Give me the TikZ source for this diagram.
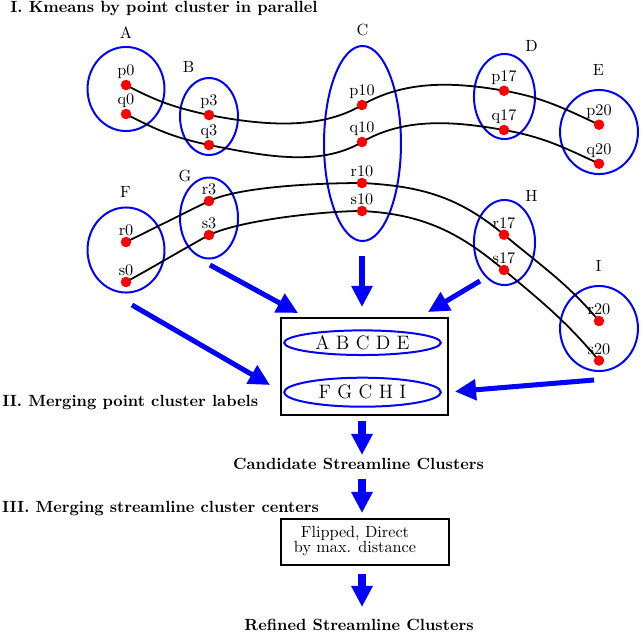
\documentclass[tikz,border=0pt]{standalone}
\usetikzlibrary{shapes.geometric,arrows.meta}
\begin{document}
\begin{tikzpicture}[x=0.6173pt,y=-0.6173pt,
  clus/.style={draw=blue,line width=1.23pt,ellipse,inner sep=0pt},
  dotpt/.style={circle,inner sep=0pt,minimum size=6.5pt,label distance=2.3pt},
  dlbl/.style={inner sep=0pt},
  clbl/.style={inner sep=0pt},
  sec/.style={font=\bfseries,inner sep=0pt},
  curve/.style={draw=black,line width=1.1pt},
  arrA/.style={draw=blue,line width=3.1pt,-{Triangle[length=13pt,width=12.5pt]}},
  arrB/.style={draw=blue,line width=4.6pt,-{Triangle[length=13pt,width=12.5pt]}},
  frame/.style={draw=black,line width=1.23pt,inner sep=0pt}]
\useasboundingbox (0,0) rectangle (641,633);

% cluster ellipses
\node[clus,minimum width=47.5pt,minimum height=51.9pt] (A) at (126,89) {};
\node[clus,minimum width=35.8pt,minimum height=47.5pt] (B) at (209,116.5) {};
\node[clus,minimum width=47.5pt,minimum height=120.4pt] (C) at (362.5,143.5) {};
\node[clus,minimum width=37.7pt,minimum height=52.5pt] (D) at (504.5,96.5) {};
\node[clus,minimum width=48.1pt,minimum height=51.9pt] (E) at (599,132) {};
\node[clus,minimum width=47.5pt,minimum height=52.5pt] (F) at (126,250) {};
\node[clus,minimum width=35.8pt,minimum height=50pt] (G) at (209,218) {};
\node[clus,minimum width=37.7pt,minimum height=52.5pt] (H) at (504.5,242.5) {};
\node[clus,minimum width=48.1pt,minimum height=52.5pt] (I) at (599,328.5) {};

% cluster names
\node[clbl] (lA) at (126,33) {A};
\node[clbl] (lB) at (188.5,66.5) {B};
\node[clbl] (lC) at (362.5,30) {C};
\node[clbl] (lD) at (531.5,46) {D};
\node[clbl] (lE) at (598.5,70) {E};
\node[clbl] (lF) at (125.5,192) {F};
\node[clbl] (lG) at (185,176) {G};
\node[clbl] (lH) at (531.5,195.5) {H};
\node[clbl] (lI) at (598.5,266) {I};

% points (positions and labels)
\node[dotpt,label={[dlbl]above:p0}] (p0) at (126,85) {};
\node[dotpt,label={[dlbl]above:q0}] (q0) at (126,114) {};
\node[dotpt,label={[dlbl]above:p3}] (p3) at (209,115) {};
\node[dotpt,label={[dlbl]above:q3}] (q3) at (209,145) {};
\node[dotpt,label={[dlbl]above:p10}] (p10) at (362,105) {};
\node[dotpt,label={[dlbl]above:q10}] (q10) at (362,142) {};
\node[dotpt,label={[dlbl]above:p17}] (p17) at (504,90.7) {};
\node[dotpt,label={[dlbl]above:q17}] (q17) at (504,130) {};
\node[dotpt,label={[dlbl]above:p20}] (p20) at (599,124.7) {};
\node[dotpt,label={[dlbl]above:q20}] (q20) at (599,163.7) {};
\node[dotpt,label={[dlbl]above:r0}] (r0) at (126,242) {};
\node[dotpt,label={[dlbl]above:s0}] (s0) at (126,282) {};
\node[dotpt,label={[dlbl]above:r3}] (r3) at (209,201) {};
\node[dotpt,label={[dlbl]above:s3}] (s3) at (209,235) {};
\node[dotpt,label={[dlbl]above:r10}] (r10) at (362,183) {};
\node[dotpt,label={[dlbl]above:s10}] (s10) at (362,211) {};
\node[dotpt,label={[dlbl]above:r17}] (r17) at (504,234.7) {};
\node[dotpt,label={[dlbl]above:s17}] (s17) at (504,270) {};
\node[dotpt,label={[dlbl]above:r20}] (r20) at (599,321) {};
\node[dotpt,label={[dlbl]above:s20}] (s20) at (599,360.5) {};

% streamlines
\draw[curve] (p0.center) to[out=-28,in=168] (p3.center) to[out=-11,in=-149,looseness=0.85] (p10.center) to[out=30,in=170,looseness=0.9] (p17.center) to[out=-10,in=155] (p20.center);
\draw[curve] (q0.center) to[out=-28,in=168] (q3.center) to[out=-11,in=-149,looseness=0.85] (q10.center) to[out=30,in=170,looseness=0.9] (q17.center) to[out=-10,in=155] (q20.center);
\draw[curve] (r0.center) to[out=26,in=-154] (r3.center) to[out=25,in=180,looseness=0.6] (r10.center) to[out=-3,in=140] (r17.center) to[out=-40,in=130] (r20.center);
\draw[curve] (s0.center) to[out=29,in=-151] (s3.center) to[out=25,in=180,looseness=0.6] (s10.center) to[out=-3,in=140] (s17.center) to[out=-40,in=130] (s20.center);

% red dots on top of the streamlines
\foreach \n in {p0,q0,p3,q3,p10,q10,p17,q17,p20,q20,r0,s0,r3,s3,r10,s10,r17,s17,r20,s20}
  \fill[red] (\n.center) circle[radius=3.25pt];

% merge box
\node[frame,minimum width=103.1pt,minimum height=59.9pt] (box) at (364.5,366.5) {};
\node[clus,minimum width=96.7pt,minimum height=15.2pt,font=\large] (e1) at (362.5,342.7) {A B C D E};
\node[clus,minimum width=96.7pt,minimum height=17.9pt,font=\large] (e2) at (362.5,392.2) {F G C H I};

% section texts
\node[sec,anchor=base west] (t1) at (10,12) {I. Kmeans by point cluster in parallel};
\node[sec,anchor=base west] (t2) at (2,406.5) {II. Merging point cluster labels};
\node[sec,anchor=base] (t3) at (358.5,469) {Candidate Streamline Clusters};
\node[sec,anchor=base west] (t4) at (1.7,512.5) {III. Merging streamline cluster centers};
\node[frame,minimum width=103.7pt,minimum height=28.6pt] (box2) at (365,541.9) {};
\node[inner sep=0pt,anchor=base] (f1) at (355,537) {Flipped, Direct};
\node[inner sep=0pt,anchor=base] (f2) at (355,552.5) {by max. distance};
\node[sec,anchor=base] (t5) at (359,630) {Refined Streamline Clusters};

% arrows
\coordinate (a1s) at (132,305); \coordinate (a1e) at (270,385);
\coordinate (a2s) at (210,265); \coordinate (a2e) at (298,313);
\coordinate (a3s) at (362,256); \coordinate (a3e) at (362,307);
\coordinate (a4s) at (480,281); \coordinate (a4e) at (428,312);
\coordinate (a5s) at (594,380); \coordinate (a5e) at (455,391.5);
\coordinate (a6s) at (362,421); \coordinate (a6e) at (362,455);
\coordinate (a7s) at (362,479); \coordinate (a7e) at (362,513);
\coordinate (a8s) at (362,574); \coordinate (a8e) at (362,607);
\draw[arrA] (a1s) -- (a1e);
\draw[arrA] (a2s) -- (a2e);
\draw[arrA] (a3s) -- (a3e);
\draw[arrA] (a4s) -- (a4e);
\draw[arrA] (a5s) -- (a5e);
\draw[arrB] (a6s) -- (a6e);
\draw[arrB] (a7s) -- (a7e);
\draw[arrB] (a8s) -- (a8e);
\end{tikzpicture}
\end{document}
